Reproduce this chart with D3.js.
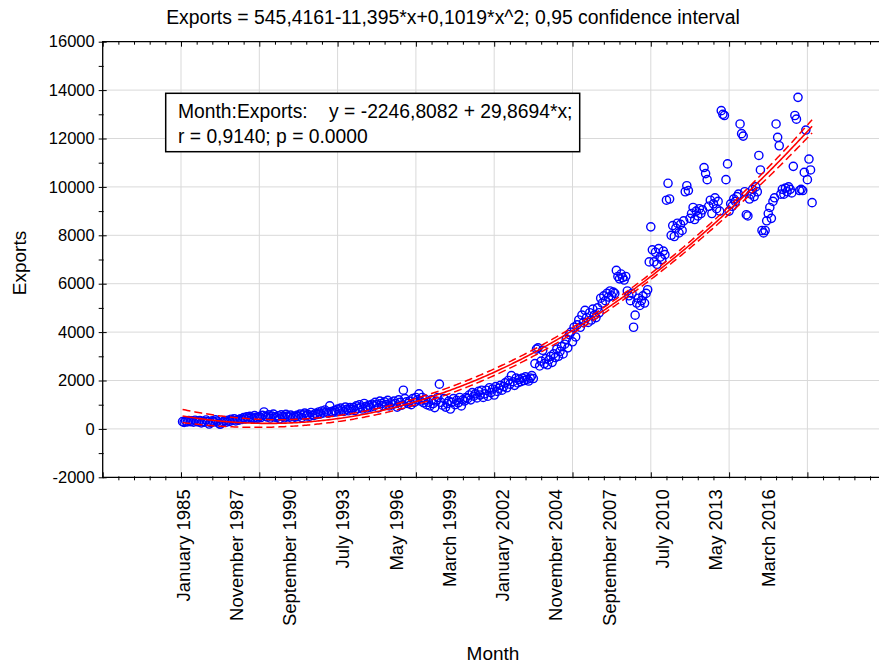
<!DOCTYPE html>
<html><head><meta charset="utf-8">
<script src="https://cdn.jsdelivr.net/npm/d3@7/dist/d3.min.js"></script>
<style>
body{margin:0;background:#fff;overflow:hidden}
text{font-family:"Liberation Sans", Arial, sans-serif;fill:#000}
</style>
</head><body>
<svg id="chart" width="879" height="664"></svg>
<script>
// ---------------- DATA ----------------
const startYear = 1985;
// Monthly exports, January 1985 .. July 2018 (one row per year)
const exportsValues = [
  300, 270, 320, 290, 350, 300, 330, 280, 360, 310, 290, 340,
  250, 310, 280, 370, 300, 200, 260, 330, 290, 380, 320, 240,
  190, 250, 300, 340, 280, 360, 310, 400, 350, 420, 330, 380,
  360, 420, 390, 470, 410, 500, 440, 520, 460, 430, 550, 480,
  440, 510, 470, 560, 700, 520, 490, 580, 450, 530, 610, 500,
  470, 540, 420, 580, 510, 460, 600, 530, 490, 570, 440, 520,
  490, 560, 520, 610, 470, 580, 650, 540, 600, 520, 680, 570,
  560, 640, 600, 700, 620, 740, 660, 780, 700, 650, 950, 720,
  680, 760, 700, 820, 740, 860, 780, 720, 900, 810, 750, 880,
  800, 880, 760, 950, 850, 1000, 900, 820, 1050, 920, 870, 980,
  900, 1020, 950, 1100, 1000, 870, 1150, 1050, 960, 1120, 1010, 1180,
  950, 1080, 1000, 1150, 1050, 900, 1200, 1100, 980, 1600, 1250, 1120,
  1050, 1150, 1000, 1250, 1100, 1300, 1200, 1450, 1150, 1300, 1080, 1220,
  1000, 1100, 950, 1200, 1050, 880, 1150, 1300, 1850, 1100, 980, 1250,
  900, 1050, 1150, 820, 1100, 1250, 1000, 1180, 1080, 1300, 950, 1200,
  1150, 1300, 1250, 1400, 1200, 1500, 1350, 1450, 1280, 1550, 1400, 1600,
  1300, 1450, 1600, 1350, 1700, 1500, 1650, 1400, 1750, 1550, 1680, 1800,
  1600, 1750, 1900, 1700, 2000, 1850, 2200, 1950, 1800, 2100, 1900, 2050,
  1950, 2100, 2000, 2150, 2050, 1980, 2100, 2200, 2080, 2700, 3300, 3350,
  2600, 2800, 3250, 2700, 2900, 2650, 2850, 3000, 2750, 3100, 2950, 3300,
  3000, 3200, 3400, 3100, 3500, 3700, 3350, 3900, 4000, 3600, 4200, 3800,
  4300, 4500, 4200, 4700, 4400, 4900, 4600, 4400, 4800, 4500, 4950, 4700,
  4600, 5000, 4800, 5400, 5200, 5500, 5300, 5600, 5450, 5700, 5500, 5650,
  5600, 6550, 6300, 6200, 6400, 6250, 6150, 6300, 5700, 5500, 5300, 5600,
  4200, 4700, 5200, 5400, 5100, 5300, 5500, 5200, 5600, 5750, 6900, 8350,
  7400, 6900, 7300, 6800, 7450, 7100, 7000, 7350, 7200, 9450, 10150, 9500,
  8000, 8400, 7950, 8300, 8500, 8100, 8450, 8200, 8600, 9800, 10050, 9850,
  8700, 8900, 9150, 8650, 9000, 8800, 9100, 8900, 9050, 10800, 10550, 10300,
  9200, 9450, 8900, 9300, 9550, 9100, 9400, 9000, 13150, 13000, 12950, 10300,
  10950, 9000, 9300, 9200, 9500, 9400, 9600, 9700, 12600, 12200, 12100, 9800,
  8850, 8800, 9500, 9700, 9900, 9600, 10000, 9800, 11300, 10700, 8200, 8100,
  8200, 8600, 8900, 9150, 8700, 9400, 9550, 12600, 12050, 11700, 9700, 9900,
  9700, 9950, 9800, 10000, 9900, 9750, 10850, 12950, 12800, 13700, 9850, 9900,
  9850, 10600, 12350, 10300, 11150, 10700, 9350
];
// quadratic fit coefficients from the title: a + b*x + c*x^2
const fitCoefs = [545.4161, -11.395, 0.1019];
const confidenceLevel = 0.95;
const tCritical = 1.966;
const xTickLabels = ["January 1985","November 1987","September 1990","July 1993","May 1996",
  "March 1999","January 2002","November 2004","September 2007","July 2010","May 2013","March 2016"];
const labelStep = 34;
const xMajorTicks = [-50, 0, 50, 100, 150, 200, 250, 300, 350, 400, 450];
const yMajorTicks = [-2000, 0, 2000, 4000, 6000, 8000, 10000, 12000, 14000, 16000];
const titleText = "Exports = 545,4161-11,395*x+0,1019*x^2; 0,95 confidence interval";
const legendLines = ["Month:Exports:    y = -2246,8082 + 29,8694*x;", "r = 0,9140; p = 0.0000"];
const xTitle = "Month", yTitle = "Exports";

// ---------------- LAYOUT ----------------
const svg = d3.select("#chart");
const L = 102.7, T = 41.7, B = 477.3, R = 885.7;
const x = d3.scaleLinear().domain([-50, 450]).range([L, R]);
const y = d3.scaleLinear().domain([-2000, 16000]).range([B, T]);
const xMinor = d3.range(-50, 451, 10).filter(v => v % 50 !== 0);
const yMinor = d3.range(-2000, 16001, 1000).filter(v => v % 2000 !== 0);

svg.append("rect").attr("width", 879).attr("height", 664).attr("fill", "#fff");

// gridlines
const grid = svg.append("g");
grid.selectAll(".gx").data(xMajorTicks.filter(v => v > -50)).enter().append("line")
  .attr("x1", d => x(d)).attr("x2", d => x(d)).attr("y1", T).attr("y2", B)
  .attr("stroke", "#d9d9d9").attr("stroke-width", 1);
grid.selectAll(".gy").data(yMajorTicks.filter(v => v > -2000 && v < 16000)).enter().append("line")
  .attr("x1", L).attr("x2", R).attr("y1", d => y(d)).attr("y2", d => y(d))
  .attr("stroke", "#d9d9d9").attr("stroke-width", 1);

// ---------------- REGRESSION BAND ----------------
const cases = exportsValues.map((v, i) => i + 1);
const fit = c => fitCoefs[0] + fitCoefs[1] * c + fitCoefs[2] * c * c;
const n = exportsValues.length;
const sc = 100;
let M = [[0,0,0],[0,0,0],[0,0,0]];
cases.forEach(c => {
  const v = [1, c / sc, (c / sc) * (c / sc)];
  for (let i = 0; i < 3; i++) for (let j = 0; j < 3; j++) M[i][j] += v[i] * v[j];
});
function inv3(m) {
  const [a,b,c] = m[0], [d,e,f] = m[1], [g,h,k] = m[2];
  const A = e*k - f*h, Bv = -(d*k - f*g), C = d*h - e*g;
  const det = a*A + b*Bv + c*C;
  return [
    [A/det, -(b*k - c*h)/det, (b*f - c*e)/det],
    [Bv/det, (a*k - c*g)/det, -(a*f - c*d)/det],
    [C/det, -(a*h - b*g)/det, (a*e - b*d)/det]
  ];
}
const Minv = inv3(M);
const sse = d3.sum(exportsValues, (v, i) => (v - fit(cases[i])) ** 2);
const s = Math.sqrt(sse / (n - 3));
const halfWidth = c => {
  const v = [1, c / sc, (c / sc) * (c / sc)];
  let q = 0;
  for (let i = 0; i < 3; i++) for (let j = 0; j < 3; j++) q += v[i] * Minv[i][j] * v[j];
  return tCritical * s * Math.sqrt(q);
};

svg.append("clipPath").attr("id", "plotclip").append("rect")
  .attr("x", L).attr("y", T).attr("width", R - L).attr("height", B - T);
const plot = svg.append("g").attr("clip-path", "url(#plotclip)");

// points
plot.selectAll("circle").data(exportsValues).enter().append("circle")
  .attr("cx", (d, i) => x(cases[i])).attr("cy", d => y(d)).attr("r", 4.1)
  .attr("fill", "none").attr("stroke", "#0000ff").attr("stroke-width", 1.4);

const line = d3.line().x(c => x(c)).y(c => y(fit(c)));
plot.append("path").attr("d", line(cases)).attr("fill", "none")
  .attr("stroke", "#ff0000").attr("stroke-width", 1.6);
const up = d3.line().x(c => x(c)).y(c => y(fit(c) + halfWidth(c)));
const lo = d3.line().x(c => x(c)).y(c => y(fit(c) - halfWidth(c)));
[up, lo].forEach(g => plot.append("path").attr("d", g(cases)).attr("fill", "none")
  .attr("stroke", "#ff0000").attr("stroke-width", 1.5).attr("stroke-dasharray", "8,4"));

// ---------------- AXES ----------------
function tickAxis(axisFn, scale, vals, tr, a1, a2, horiz) {
  const g = svg.append("g").attr("transform", tr)
    .call(axisFn(scale).tickValues(vals).tickSize(0).tickFormat(""));
  g.select(".domain").remove();
  g.selectAll(".tick line").attr("stroke", "#000").attr("stroke-width", 1)
    .attr(horiz ? "y1" : "x1", a1).attr(horiz ? "y2" : "x2", a2);
  return g;
}
tickAxis(d3.axisBottom, x, xMajorTicks, `translate(0,${B})`, -5, 1, true);
tickAxis(d3.axisBottom, x, xMinor, `translate(0,${B})`, -1, 3, true);
tickAxis(d3.axisTop, x, xMajorTicks, `translate(0,${T})`, 0, 5, true);
tickAxis(d3.axisTop, x, xMinor, `translate(0,${T})`, 0, 3, true);
tickAxis(d3.axisLeft, y, yMajorTicks, `translate(${L},0)`, -4, 4, false);
tickAxis(d3.axisLeft, y, yMinor, `translate(${L},0)`, -4, 1, false);

// frame
svg.append("path").attr("d", `M${R},${T}H${L}V${B}H${R}`).attr("fill", "none")
  .attr("stroke", "#000").attr("stroke-width", 1.3);

// y tick labels (plain hyphen for negatives)
const yl = svg.append("g").attr("transform", `translate(${L},0)`)
  .call(d3.axisLeft(y).tickValues(yMajorTicks).tickSize(0).tickPadding(8).tickFormat(d => String(d)));
yl.select(".domain").remove();
yl.selectAll("text").attr("font-size", 16.5).style("font-family", '"Liberation Sans", Arial, sans-serif');

// x tick labels (every 34th month)
const xl = svg.append("g").attr("transform", `translate(0,${B})`)
  .call(d3.axisBottom(x).tickValues(xTickLabels.map((t, i) => 1 + i * labelStep))
    .tickSize(0).tickFormat((d, i) => xTickLabels[i]));
xl.select(".domain").remove();
xl.selectAll("text")
  .attr("font-size", 18.5).style("font-family", '"Liberation Sans", Arial, sans-serif')
  .attr("text-anchor", "end").attr("transform", "rotate(-90)")
  .attr("x", -12).attr("y", 0).attr("dy", "0.35em");

// titles
svg.append("text").attr("x", 453).attr("y", 24).attr("text-anchor", "middle")
  .attr("font-size", 19.4).text(titleText);
svg.append("text").attr("transform", "translate(26,263) rotate(-90)").attr("text-anchor", "middle")
  .attr("font-size", 19).text(yTitle);
svg.append("text").attr("x", 493).attr("y", 660).attr("text-anchor", "middle")
  .attr("font-size", 19).text(xTitle);

// legend box
const lg = svg.append("g");
lg.append("rect").attr("x", 165.7).attr("y", 93.3).attr("width", 414).attr("height", 58.4)
  .attr("fill", "#fff").attr("stroke", "#000").attr("stroke-width", 1.5);
lg.selectAll("text.leg").data(legendLines).enter().append("text")
  .attr("x", 178).attr("y", (d, i) => 118 + i * 25).attr("font-size", 19.3)
  .style("white-space", "pre").text(d => d);
</script>
</body></html>
